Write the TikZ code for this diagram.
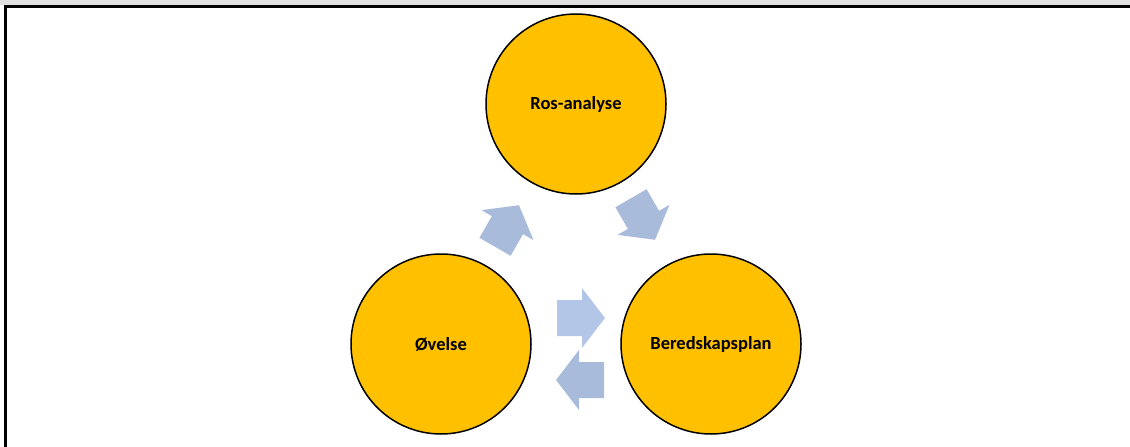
\documentclass[tikz,border=0pt]{standalone}
\usepackage{fontspec}
\setmainfont{Carlito}
\begin{document}
\begin{tikzpicture}[x=1pt,y=-1pt,
  phase/.style={circle,draw=black,line width=1.5pt,fill=ringfill,minimum size=180pt,inner sep=0pt,font=\bfseries\fontsize{18.5}{22}\selectfont},
  blockarrow/.style={fill=arrowfill,draw=none},
  lightarrow/.style={fill=arrowlight,draw=none}]
\definecolor{ringfill}{HTML}{FFC000}
\definecolor{arrowfill}{HTML}{A9BBDB}
\definecolor{arrowlight}{HTML}{B4C6E7}
\definecolor{stripgray}{HTML}{E0E0E0}
\useasboundingbox (0,0) rectangle (1130,447);
% frame
\fill[stripgray] (0,0) rectangle (1130,5);
\fill[black] (4,5) rectangle (1130,7.5);
\fill[black] (4,5) rectangle (6.5,447);
% circles
\node[phase] (ros) at (576,104) {Ros-analyse};
\node[phase] (ovelse) at (441,344) {Øvelse};
\node[phase] (bered) at (711,344) {Beredskapsplan};
% arrow anchor points
\coordinate (a1) at (507,226);
\coordinate (a2) at (643,219);
\coordinate (a3) at (581,318);
\coordinate (a4) at (580,380);
\newcommand\blockarr[3]{%
  \begin{scope}[shift={(#1)},rotate=#2]
    \fill[#3] (-24,-18) -- (1,-18) -- (1,-30) -- (24,0) -- (1,30) -- (1,18) -- (-24,18) -- cycle;
  \end{scope}}
\blockarr{a1}{60}{blockarrow}
\blockarr{a2}{-60}{blockarrow}
\blockarr{a3}{0}{lightarrow}
\blockarr{a4}{180}{blockarrow}
\end{tikzpicture}
\end{document}
